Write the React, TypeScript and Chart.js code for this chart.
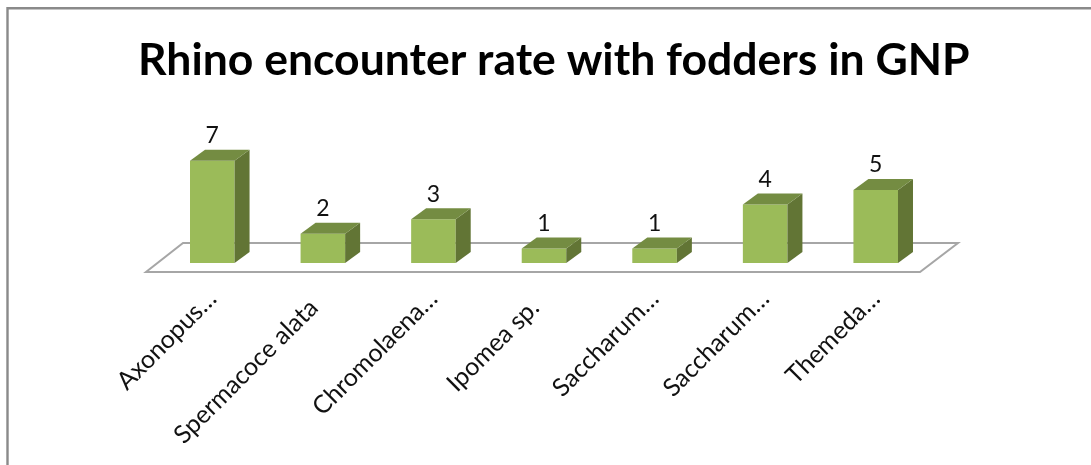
import React, { useEffect, useRef } from "react";
import { Chart, registerables } from "chart.js";

Chart.register(...registerables);

const categories = [
  "Axonopus…",
  "Spermacoce alata",
  "Chromolaena…",
  "Ipomea sp.",
  "Saccharum…",
  "Saccharum…",
  "Themeda…",
];
const encounterRate = [7, 2, 3, 1, 1, 4, 5];
const chartTitle = "Rhino encounter rate with fodders in GNP";

const FONT = "Lato, Carlito, Calibri, sans-serif";
const FRONT = "#9BBB59";
const TOP = "#748C42";
const SIDE = "#627535";
const DX = 15;
const DY = 11;

const pseudo3d = {
  id: "pseudo3d",
  beforeDraw(chart: any) {
    const { ctx, width, height } = chart;
    ctx.save();
    ctx.fillStyle = "#ffffff";
    ctx.fillRect(0, 0, width, height);
    ctx.strokeStyle = "#8a8a8a";
    ctx.lineWidth = 2.4;
    ctx.beginPath();
    ctx.moveTo(7.5, height);
    ctx.lineTo(7.5, 8.3);
    ctx.lineTo(width, 8.3);
    ctx.stroke();
    ctx.restore();
  },
  beforeDatasetsDraw(chart: any) {
    const { ctx, chartArea } = chart;
    const y0 = chart.scales.y.getPixelForValue(0);
    ctx.save();
    ctx.strokeStyle = "#a6a6a6";
    ctx.lineWidth = 2;
    ctx.beginPath();
    ctx.moveTo(chartArea.left - 11, y0 + 9);
    ctx.lineTo(chartArea.right - 11, y0 + 9);
    ctx.lineTo(chartArea.right + 27, y0 - 20);
    ctx.lineTo(chartArea.left + 26, y0 - 20);
    ctx.closePath();
    ctx.stroke();
    ctx.restore();
  },
  afterDatasetsDraw(chart: any) {
    const { ctx } = chart;
    const bars = chart.getDatasetMeta(0).data;
    ctx.save();
    bars.forEach((bar: any, i: number) => {
      const left = bar.x - bar.width / 2;
      const right = bar.x + bar.width / 2;
      const top = bar.y;
      const base = bar.base;
      ctx.fillStyle = SIDE;
      ctx.beginPath();
      ctx.moveTo(right, top);
      ctx.lineTo(right + DX, top - DY);
      ctx.lineTo(right + DX, base - DY);
      ctx.lineTo(right, base);
      ctx.closePath();
      ctx.fill();
      ctx.fillStyle = TOP;
      ctx.beginPath();
      ctx.moveTo(left, top);
      ctx.lineTo(left + DX, top - DY);
      ctx.lineTo(right + DX, top - DY);
      ctx.lineTo(right, top);
      ctx.closePath();
      ctx.fill();
      ctx.fillStyle = "#111111";
      ctx.font = `23px ${FONT}`;
      ctx.textAlign = "center";
      ctx.textBaseline = "middle";
      ctx.fillText(String(encounterRate[i]), bar.x, top - DY - 14);
    });
    ctx.restore();
  },
};

export default function App() {
  const ref = useRef<HTMLCanvasElement | null>(null);
  useEffect(() => {
    const chart = new Chart(ref.current as HTMLCanvasElement, {
      type: "bar",
      data: {
        labels: categories,
        datasets: [
          {
            data: encounterRate,
            backgroundColor: FRONT,
            borderWidth: 0,
            barPercentage: 1,
            categoryPercentage: 0.403,
          },
        ],
      },
      plugins: [pseudo3d],
      options: {
        responsive: false,
        animation: false,
        layout: { padding: { left: 138, right: 100, top: 0, bottom: 0 } },
        plugins: {
          legend: { display: false },
          tooltip: { enabled: false },
          title: {
            display: true,
            text: chartTitle,
            align: "start",
            color: "#000000",
            font: { family: FONT, size: 44.5, weight: "bold" },
            padding: { top: 34, bottom: 58.6 },
          },
        },
        scales: {
          x: {
            grid: { display: false },
            border: { display: false },
            ticks: {
              autoSkip: false,
              minRotation: 45,
              maxRotation: 45,
              padding: 13,
              labelOffset: 0,
              color: "#111111",
              font: { family: FONT, size: 25 },
              callback(this: any, value: any) {
                const label = String(this.getLabelForValue(value));
                return label.endsWith("…") ? label : label + "  ";
              },
            },
            afterFit(scale: any) {
              scale.height = 202;
              scale.paddingLeft = 0;
              scale.paddingRight = 0;
            },
          },
          y: {
            min: 0,
            max: 8,
            grid: { display: false },
            border: { display: false },
            ticks: { display: false },
            afterFit(scale: any) {
              scale.width = 19;
            },
          },
          yRight: {
            position: "right",
            min: 0,
            max: 8,
            grid: { display: false },
            border: { display: false },
            ticks: { display: false },
            afterFit(scale: any) {
              scale.width = 60;
            },
          },
        },
      },
    } as any);
    return () => chart.destroy();
  }, []);
  return (
    <div style={{ position: "fixed", left: 0, top: 0, width: 1091, height: 465, background: "#fff" }}>
      <canvas ref={ref} width={1091} height={465} style={{ display: "block" }} />
    </div>
  );
}
